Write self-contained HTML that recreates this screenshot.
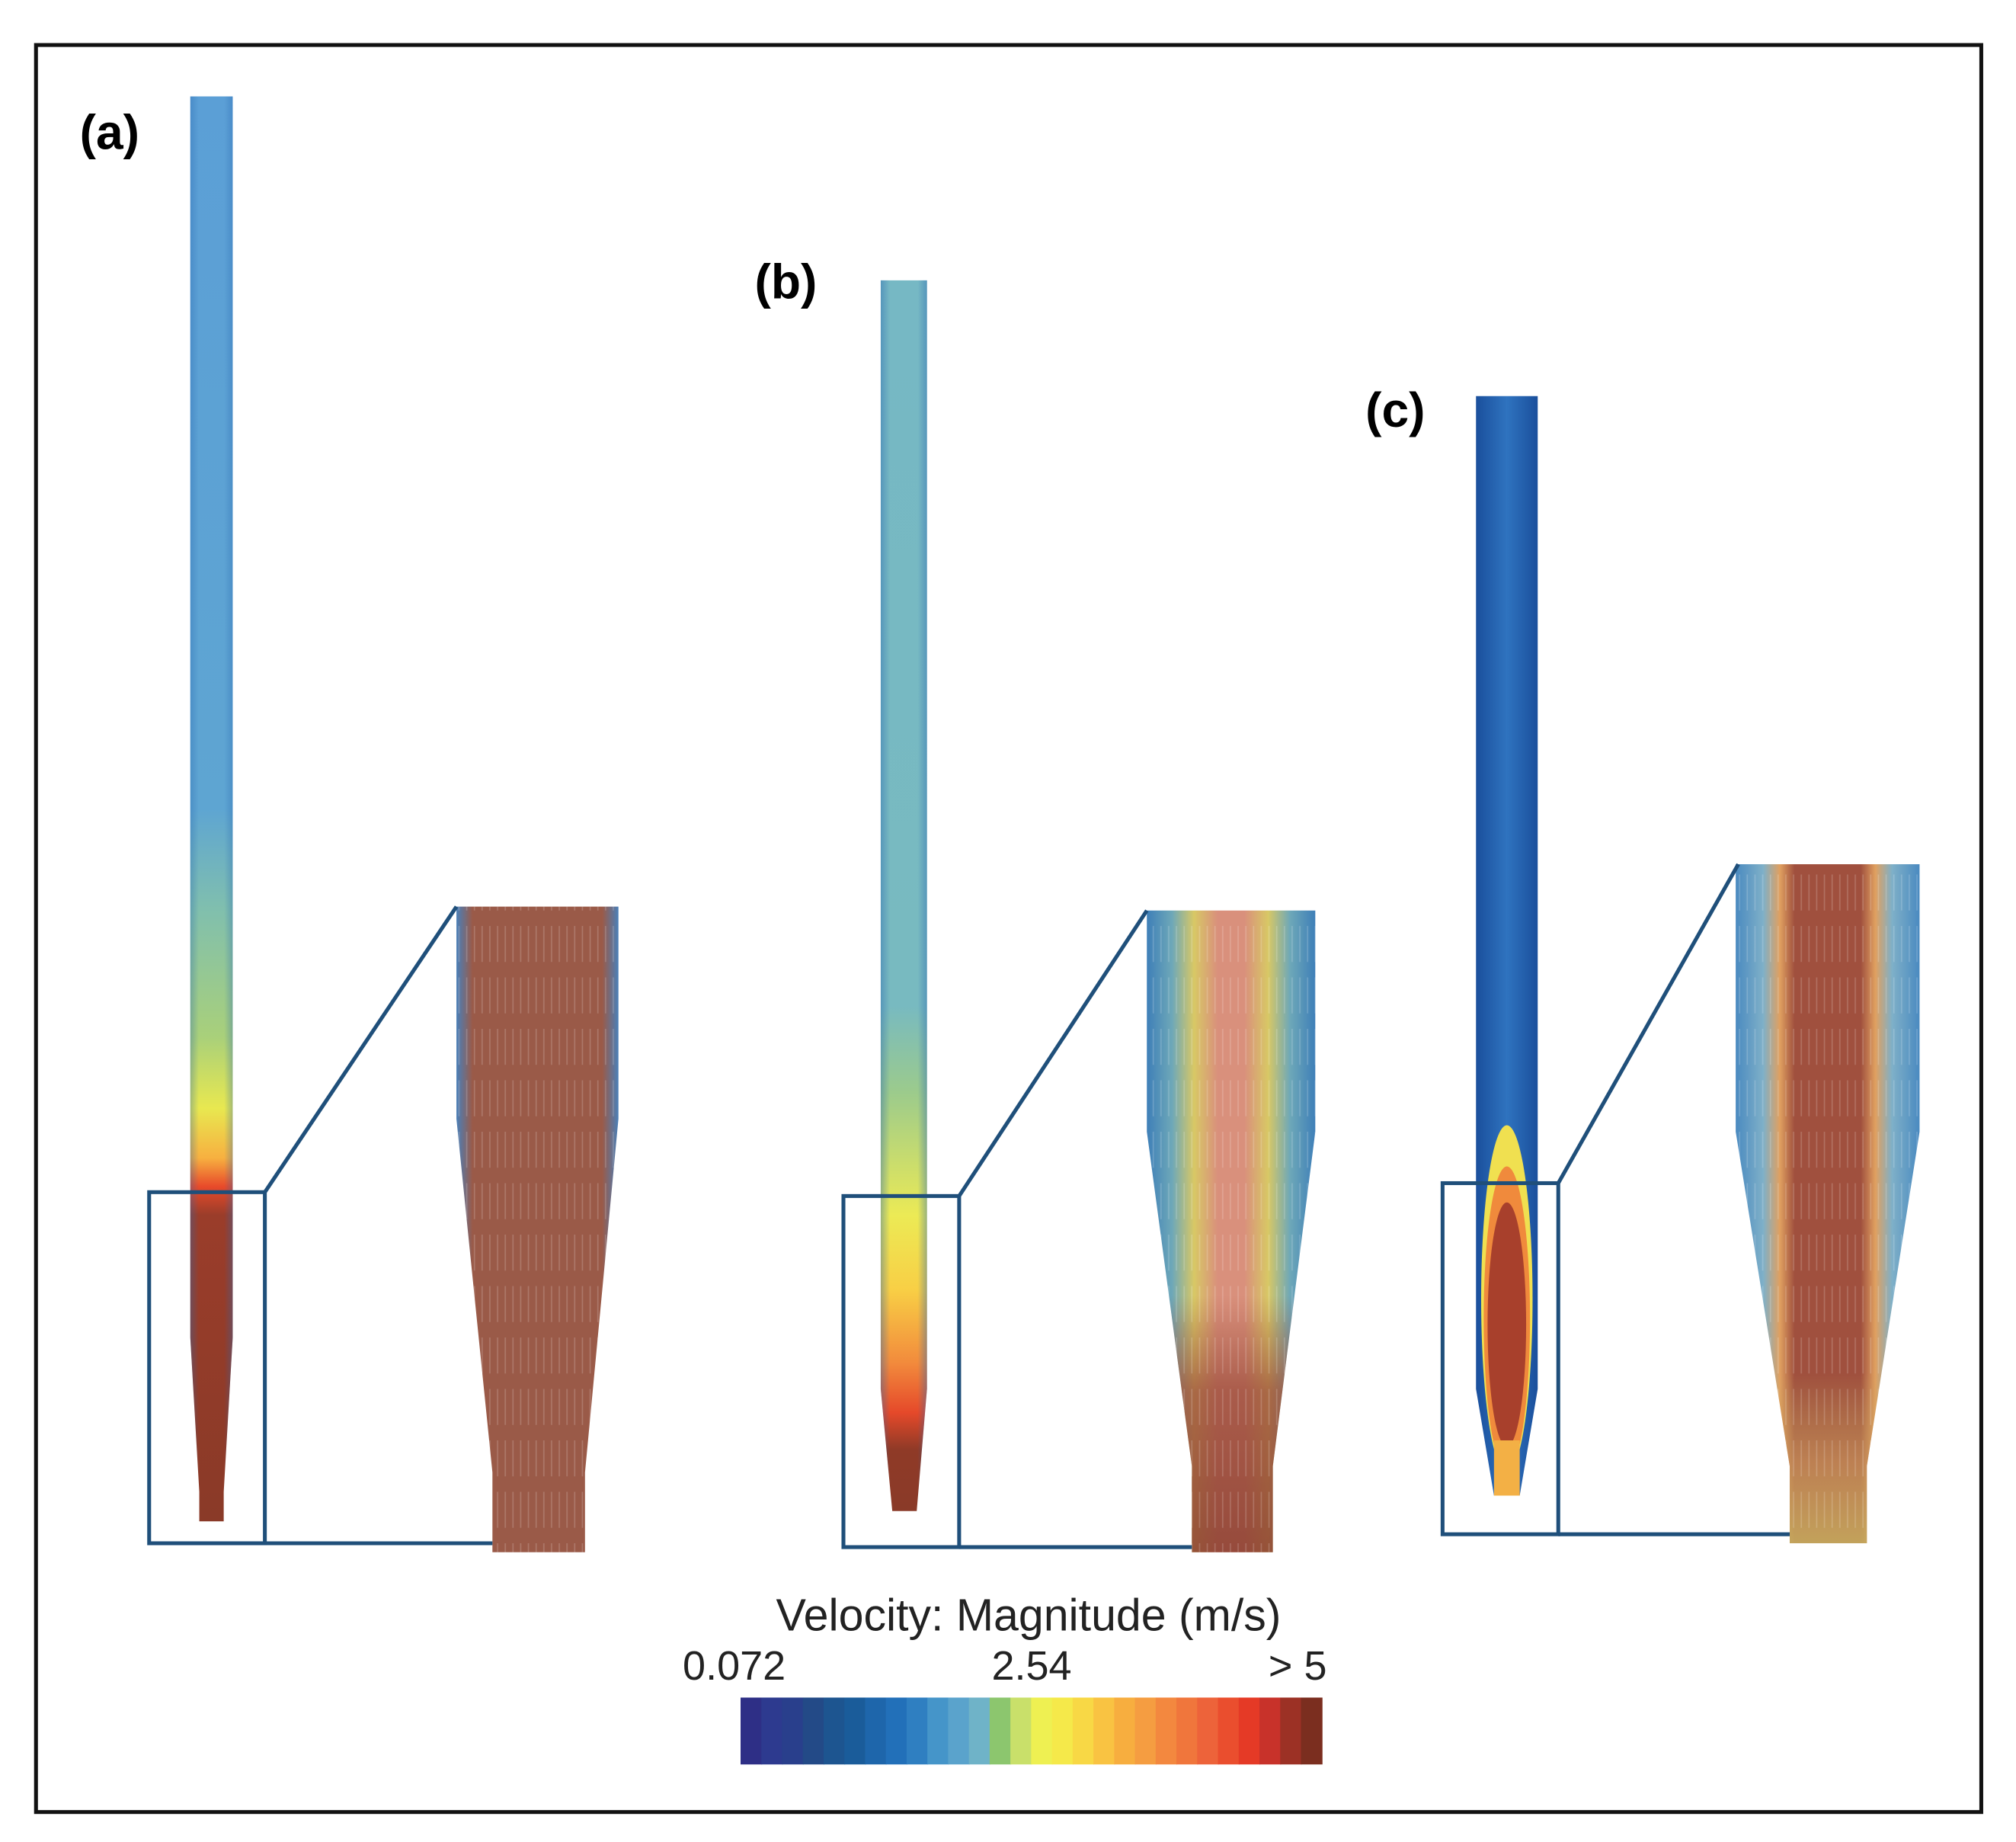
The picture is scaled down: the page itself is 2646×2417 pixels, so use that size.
<!DOCTYPE html>
<html><head><meta charset="utf-8"><style>
html,body{margin:0;padding:0;background:#fff;}
svg{display:block;}
text{font-family:"Liberation Sans",sans-serif;}
</style></head><body>
<svg id="fig" width="2646" height="2417" viewBox="0 0 1568 1432.3" xmlns="http://www.w3.org/2000/svg">
<defs>
 <linearGradient id="gA" x1="0" y1="75" x2="0" y2="1183" gradientUnits="userSpaceOnUse">
  <stop offset="0" stop-color="#5b9fd6"/><stop offset="0.5" stop-color="#5ea5d2"/>
  <stop offset="0.57" stop-color="#80bfae"/><stop offset="0.66" stop-color="#a9d07a"/>
  <stop offset="0.71" stop-color="#e8e850"/><stop offset="0.745" stop-color="#f7b040"/>
  <stop offset="0.765" stop-color="#e84a2a"/><stop offset="0.785" stop-color="#9a3d2a"/>
  <stop offset="1" stop-color="#8a3a28"/></linearGradient>
 <linearGradient id="gB" x1="0" y1="218" x2="0" y2="1175" gradientUnits="userSpaceOnUse">
  <stop offset="0" stop-color="#76b8c4"/><stop offset="0.59" stop-color="#78bac0"/>
  <stop offset="0.66" stop-color="#9ccb8c"/><stop offset="0.76" stop-color="#ecea55"/>
  <stop offset="0.82" stop-color="#f8cf45"/><stop offset="0.88" stop-color="#f28a3c"/>
  <stop offset="0.92" stop-color="#e5492a"/><stop offset="0.95" stop-color="#8f3a27"/>
  <stop offset="1" stop-color="#8a3a28"/></linearGradient>
 <linearGradient id="edge" x1="0" x2="1" y1="0" y2="0">
  <stop offset="0" stop-color="#2a68b0" stop-opacity="0.7"/><stop offset="0.2" stop-color="#2a68b0" stop-opacity="0"/>
  <stop offset="0.8" stop-color="#2a68b0" stop-opacity="0"/><stop offset="1" stop-color="#2a68b0" stop-opacity="0.7"/></linearGradient>
 <linearGradient id="gC" x1="0" x2="1" y1="0" y2="0">
  <stop offset="0" stop-color="#1a4f9c"/><stop offset="0.5" stop-color="#2f73bf"/><stop offset="1" stop-color="#1a4f9c"/></linearGradient>
 <linearGradient id="zB" x1="0" x2="1" y1="0" y2="0">
  <stop offset="0" stop-color="#3e7fb8"/><stop offset="0.15" stop-color="#6ea8b8"/>
  <stop offset="0.28" stop-color="#d8c865"/><stop offset="0.42" stop-color="#d9907c"/>
  <stop offset="0.58" stop-color="#d9907c"/><stop offset="0.72" stop-color="#d8c865"/>
  <stop offset="0.85" stop-color="#6ea8b8"/><stop offset="1" stop-color="#3e7fb8"/></linearGradient>
 <linearGradient id="zBv" x1="0" y1="708" x2="0" y2="1207" gradientUnits="userSpaceOnUse">
  <stop offset="0" stop-color="#9a4a3a" stop-opacity="0"/><stop offset="0.6" stop-color="#9a4a3a" stop-opacity="0"/>
  <stop offset="0.75" stop-color="#9a4a3a" stop-opacity="0.75"/><stop offset="1" stop-color="#8a3e30" stop-opacity="0.85"/></linearGradient>
 <linearGradient id="zC" x1="0" x2="1" y1="0" y2="0">
  <stop offset="0" stop-color="#4a8ac0"/><stop offset="0.15" stop-color="#7fb0c8"/>
  <stop offset="0.24" stop-color="#e0a060"/><stop offset="0.32" stop-color="#a0503e"/>
  <stop offset="0.68" stop-color="#a0503e"/><stop offset="0.76" stop-color="#e0a060"/>
  <stop offset="0.85" stop-color="#7fb0c8"/><stop offset="1" stop-color="#4a8ac0"/></linearGradient>
 <linearGradient id="zCv" x1="0" y1="672" x2="0" y2="1200" gradientUnits="userSpaceOnUse">
  <stop offset="0" stop-color="#c8b060" stop-opacity="0"/><stop offset="0.75" stop-color="#c8b060" stop-opacity="0"/>
  <stop offset="0.88" stop-color="#d0a060" stop-opacity="0.6"/><stop offset="1" stop-color="#c8b060" stop-opacity="0.85"/></linearGradient>
 <linearGradient id="zA" x1="0" x2="1" y1="0" y2="0">
  <stop offset="0" stop-color="#4a7fb8"/><stop offset="0.1" stop-color="#9a5a48"/>
  <stop offset="0.9" stop-color="#9a5a48"/><stop offset="1" stop-color="#4a7fb8"/></linearGradient>
 <pattern id="streak" width="6" height="40" patternUnits="userSpaceOnUse">
  <line x1="3" y1="0" x2="3" y2="28" stroke="#fff" stroke-opacity="0.18" stroke-width="1"/></pattern>
</defs>
<rect x="0" y="0" width="1568" height="1433" fill="#fff"/>
<rect x="28" y="35" width="1513" height="1374" fill="none" stroke="#111" stroke-width="3"/>

<text x="62" y="116" font-size="38" font-weight="bold">(a)</text>
<polygon points="148,75 181,75 181,1040 174,1160 174,1183 155,1183 155,1160 148,1040" fill="url(#gA)"/>
<polygon points="148,75 181,75 181,1040 174,1160 174,1183 155,1183 155,1160 148,1040" fill="url(#edge)" opacity="0.5"/>
<g>
 <polygon points="355,705 481,705 481,870 455,1145 455,1207 383,1207 383,1145 355,870" fill="url(#zA)"/>
 <polygon points="355,705 481,705 481,870 455,1145 455,1207 383,1207 383,1145 355,870" fill="url(#streak)"/>
</g>
<g stroke="#1f4f7a" stroke-width="3" fill="none">
 <rect x="116" y="927" width="90" height="273"/>
 <line x1="206" y1="927" x2="355" y2="705"/><line x1="206" y1="1200" x2="383" y2="1200"/>
</g>

<text x="587" y="232" font-size="38" font-weight="bold">(b)</text>
<polygon points="685,218 721,218 721,1080 713,1175 694,1175 685,1080" fill="url(#gB)"/>
<polygon points="685,218 721,218 721,1080 713,1175 694,1175 685,1080" fill="url(#edge)" opacity="0.6"/>
<g>
 <polygon points="892,708 1023,708 1023,880 990,1140 990,1207 927,1207 927,1140 892,880" fill="url(#zB)"/>
 <polygon points="892,708 1023,708 1023,880 990,1140 990,1207 927,1207 927,1140 892,880" fill="url(#zBv)"/>
 <polygon points="892,708 1023,708 1023,880 990,1140 990,1207 927,1207 927,1140 892,880" fill="url(#streak)"/>
</g>
<g stroke="#1f4f7a" stroke-width="3" fill="none">
 <rect x="656" y="930" width="90" height="273"/>
 <line x1="746" y1="930" x2="892" y2="708"/><line x1="746" y1="1203" x2="927" y2="1203"/>
</g>

<text x="1062" y="332" font-size="38" font-weight="bold">(c)</text>
<g>
 <polygon points="1148,308 1196,308 1196,1080 1182,1163 1162,1163 1148,1080" fill="url(#gC)"/>
 <ellipse cx="1172" cy="1010" rx="20" ry="135" fill="#f0e050"/>
 <ellipse cx="1172" cy="1025" rx="18" ry="118" fill="#f08a3c"/>
 <ellipse cx="1172" cy="1030" rx="15" ry="95" fill="#a8402c"/>
 <polygon points="1162,1120 1182,1120 1182,1163 1162,1163" fill="#f3b045"/>
</g>
<g>
 <polygon points="1350,672 1493,672 1493,880 1452,1140 1452,1200 1392,1200 1392,1140 1350,880" fill="url(#zC)"/>
 <polygon points="1350,672 1493,672 1493,880 1452,1140 1452,1200 1392,1200 1392,1140 1350,880" fill="url(#zCv)"/>
 <polygon points="1350,672 1493,672 1493,880 1452,1140 1452,1200 1392,1200 1392,1140 1350,880" fill="url(#streak)"/>
</g>
<g stroke="#1f4f7a" stroke-width="3" fill="none">
 <rect x="1122" y="920" width="90" height="273"/>
 <line x1="1212" y1="920" x2="1352" y2="672"/><line x1="1212" y1="1193" x2="1392" y2="1193"/>
</g>

<g>
 <text x="800" y="1268" font-size="35" text-anchor="middle" fill="#222">Velocity: Magnitude (m/s)</text>
 <g id="cbticks"></g>
 <g id="cbar"></g>
</g>
</svg>
<script>
const cbColors = ["#2e2f86","#2d3a8f","#293f8c","#234a87","#1d5590","#1a5c9a","#1e66ab","#2270b9","#2f7fc1","#4595c9","#5aa3cc","#6fb3c8","#8cc66e","#c9e06a","#eef052","#f5e94a","#f8d845","#f9c342","#f7ae3f","#f59d41","#f3883f","#f0763c","#ed633a","#ea4e2e","#e53a26","#c8322a","#9c3125","#7b2e1f"];
const cbTickLabels = ["0.072","2.54","> 5"];
const cbTickValues = [0.072, 2.54, 5];
const cbMin = 0.072, cbMax = 5;
const X0 = 576, X1 = 1028, Y0 = 1320, H = 52;
const ns = "http://www.w3.org/2000/svg";
const bar = document.getElementById("cbar");
const w = (X1 - X0) / cbColors.length;
cbColors.forEach((c, i) => {
  const r = document.createElementNS(ns, "rect");
  r.setAttribute("x", X0 + i * w);
  r.setAttribute("y", Y0);
  r.setAttribute("width", w + 0.6);
  r.setAttribute("height", H);
  r.setAttribute("fill", c);
  
  
  bar.appendChild(r);
});
const ticks = document.getElementById("cbticks");
const anchors = ["start", "middle", "end"];
const sx = v => X0 + (v - cbMin) / (cbMax - cbMin) * (X1 - X0);
cbTickLabels.forEach((t, i) => {
  const tx = document.createElementNS(ns, "text");
  let x = sx(cbTickValues[i]);
  if (i === 0) x = 531;
  if (i === 2) x = 1032;
  tx.setAttribute("x", x);
  tx.setAttribute("y", 1306);
  tx.setAttribute("font-size", "32");
  tx.setAttribute("fill", "#222");
  tx.setAttribute("text-anchor", anchors[i]);
  tx.textContent = t;
  
  
  ticks.appendChild(tx);
});
</script>
</body></html>
